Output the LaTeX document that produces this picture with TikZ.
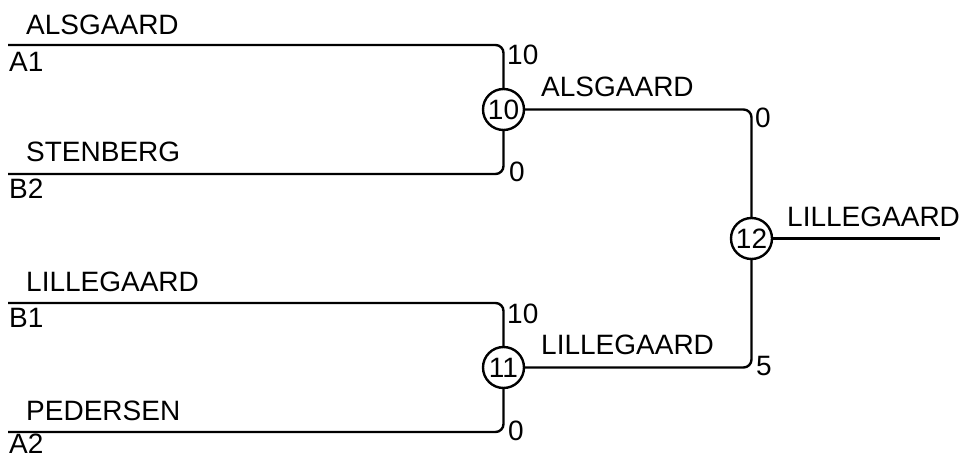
\documentclass[tikz,border=0pt]{standalone}
\usepackage{fontspec}
\setmainfont{Liberation Sans}
\usepackage{tikz}
\usetikzlibrary{positioning}

\begin{document}
\begin{tikzpicture}[x=1pt,y=-1pt,line width=2.4pt,font=\fontsize{28}{34}\selectfont,
		match/.style={circle,draw,inner sep=0pt,minimum size=41pt},
		lbl/.style={anchor=base west,inner sep=0pt},
		bracket/.style={rounded corners=8pt}]
			\useasboundingbox (0,0) rectangle (964,457);
			% first round
			\coordinate (a1) at (8,45);
			\coordinate (b2) at (8,174);
			\coordinate (b1) at (8,303);
			\coordinate (a2) at (8,432);
			\node[match] (m10) at (503.5,109.5) {10};
			\node[match] (m11) at (503.5,367.5) {11};
			% final
			\node[match] (m12) at (751.5,238.5) {12};
			\coordinate (win) at (940,238.5);
			\draw[bracket] (a1) -| (m10);
			\draw[bracket] (b2) -| (m10);
			\draw[bracket] (b1) -| (m11);
			\draw[bracket] (a2) -| (m11);
			\draw[bracket] (m10) -| (m12);
			\draw[bracket] (m11) -| (m12);
			\draw (m12) -- (win);
			% names and seeds
			\node[lbl] (n1) at (25,35) {ALSGAARD};
			\node[lbl] (s1) at (8,72) {A1};
			\node[lbl] (n2) at (25,162) {STENBERG};
			\node[lbl] (s2) at (8,199) {B2};
			\node[lbl] (n3) at (25,291) {LILLEGAARD};
			\node[lbl] (s3) at (8,327) {B1};
			\node[lbl] (n4) at (25,420) {PEDERSEN};
			\node[lbl] (s4) at (8,453) {A2};
			\node[lbl] (w10) at (540,97) {ALSGAARD};
			\node[lbl] (w11) at (540,354) {LILLEGAARD};
			\node[lbl] (w12) at (786,227) {LILLEGAARD};
			% scores
			\node[lbl] (p1) at (506,65) {10};
			\node[lbl] (p2) at (508,182) {0};
			\node[lbl] (p3) at (506,323) {10};
			\node[lbl] (p4) at (507,440) {0};
			\node[lbl] (p5) at (754,128) {0};
			\node[lbl] (p6) at (755,375) {5};
		\end{tikzpicture}
\end{document}
